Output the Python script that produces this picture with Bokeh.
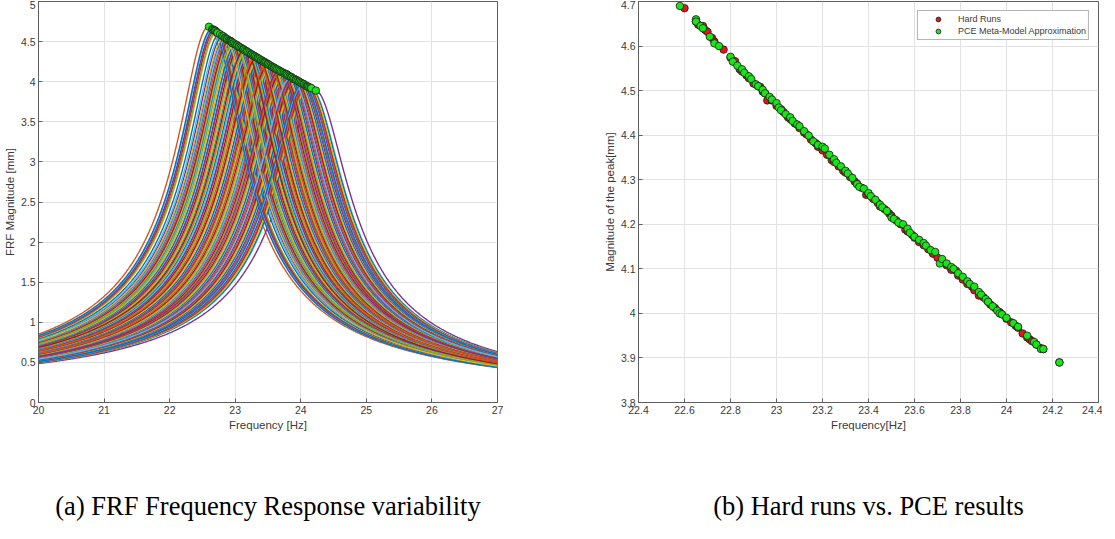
import numpy as np
from bokeh.plotting import figure
from bokeh.layouts import row
from bokeh.models import (FixedTicker, LinearAxis, Legend, LegendItem, ColumnDataSource)
from bokeh.embed import file_html
from bokeh.resources import INLINE

# ---------------- data ----------------
# Hard runs: peak frequency [Hz] and peak magnitude [mm]
hard_freq = [22.60, 22.65, 22.66, 22.68, 22.69, 22.70, 22.72, 22.73, 22.77, 22.80,
             22.82, 22.84, 22.85, 22.87, 22.88, 22.90, 22.92, 22.93, 22.94, 22.95,
             22.96, 22.98, 23.00, 23.02, 23.03, 23.05, 23.06, 23.08, 23.10, 23.12,
             23.13, 23.15, 23.17, 23.18, 23.20, 23.22, 23.24, 23.25, 23.27, 23.29,
             23.30, 23.32, 23.34, 23.35, 23.37, 23.39, 23.40, 23.42, 23.44, 23.45,
             23.47, 23.49, 23.50, 23.52, 23.54, 23.56, 23.57, 23.59, 23.60, 23.62,
             23.64, 23.66, 23.68, 23.70, 23.72, 23.74, 23.76, 23.78, 23.79, 23.81,
             23.83, 23.85, 23.86, 23.88, 23.90, 23.92, 23.93, 23.95, 23.97, 23.98,
             24.00, 24.02, 24.04, 24.05, 24.07, 24.09, 24.10, 24.11, 24.13, 24.15,
             24.16, 24.23]
hard_peak = [4.685, 4.655, 4.648, 4.645, 4.636, 4.632, 4.618, 4.610, 4.592, 4.574,
             4.566, 4.548, 4.543, 4.534, 4.528, 4.516, 4.510, 4.508, 4.498, 4.494,
             4.478, 4.478, 4.466, 4.458, 4.452, 4.440, 4.436, 4.426, 4.416, 4.406,
             4.402, 4.390, 4.382, 4.374, 4.366, 4.356, 4.344, 4.340, 4.330, 4.320,
             4.316, 4.306, 4.296, 4.291, 4.282, 4.266, 4.268, 4.257, 4.248, 4.240,
             4.234, 4.224, 4.219, 4.209, 4.200, 4.188, 4.184, 4.176, 4.170, 4.160,
             4.153, 4.144, 4.134, 4.125, 4.116, 4.108, 4.098, 4.096, 4.085, 4.076,
             4.066, 4.060, 4.052, 4.040, 4.036, 4.026, 4.020, 4.012, 4.003, 3.998,
             3.988, 3.980, 3.972, 3.968, 3.955, 3.946, 3.942, 3.938, 3.930, 3.922,
             3.920, 3.890]

# PCE meta-model approximation
pce_freq = [22.58, 22.65, 22.65, 22.67, 22.68, 22.71, 22.73, 22.75, 22.80, 22.81,
            22.83, 22.85, 22.86, 22.88, 22.89, 22.91, 22.92, 22.94, 22.95, 22.97,
            22.98, 23.00, 23.01, 23.02, 23.04, 23.06, 23.07, 23.09, 23.10, 23.12,
            23.14, 23.16, 23.18, 23.20, 23.21, 23.23, 23.25, 23.26, 23.28, 23.30,
            23.31, 23.33, 23.35, 23.36, 23.38, 23.40, 23.41, 23.43, 23.45, 23.46,
            23.48, 23.50, 23.51, 23.53, 23.55, 23.57, 23.58, 23.60, 23.62, 23.64,
            23.65, 23.67, 23.69, 23.71, 23.72, 23.74, 23.76, 23.77, 23.79, 23.81,
            23.83, 23.84, 23.86, 23.88, 23.89, 23.91, 23.92, 23.94, 23.96, 23.97,
            23.98, 24.00, 24.03, 24.05, 24.09, 24.12, 24.13, 24.15, 24.16, 24.23]
pce_peak = [4.690, 4.660, 4.655, 4.645, 4.640, 4.621, 4.606, 4.600, 4.576, 4.565,
            4.556, 4.548, 4.540, 4.532, 4.526, 4.514, 4.510, 4.502, 4.494, 4.486,
            4.480, 4.472, 4.462, 4.456, 4.447, 4.440, 4.432, 4.424, 4.420, 4.409,
            4.399, 4.386, 4.378, 4.374, 4.370, 4.356, 4.346, 4.338, 4.330, 4.320,
            4.314, 4.304, 4.290, 4.284, 4.280, 4.270, 4.263, 4.255, 4.244, 4.238,
            4.230, 4.215, 4.212, 4.204, 4.200, 4.190, 4.181, 4.172, 4.165, 4.158,
            4.152, 4.142, 4.138, 4.112, 4.122, 4.112, 4.104, 4.100, 4.090, 4.082,
            4.072, 4.066, 4.060, 4.048, 4.042, 4.032, 4.026, 4.016, 4.006, 4.000,
            3.998, 3.990, 3.978, 3.970, 3.950, 3.936, 3.930, 3.920, 3.920, 3.890]

damping_ratio = 0.02
freq_start, freq_stop, freq_step = 20.0, 27.0, 0.01

# ticks
xticks_a = [20, 21, 22, 23, 24, 25, 26, 27]
xlabels_a = ["20", "21", "22", "23", "24", "25", "26", "27"]
yticks_a = [0, 0.5, 1, 1.5, 2, 2.5, 3, 3.5, 4, 4.5, 5]
ylabels_a = ["0", "0.5", "1", "1.5", "2", "2.5", "3", "3.5", "4", "4.5", "5"]
xticks_b = [22.4, 22.6, 22.8, 23, 23.2, 23.4, 23.6, 23.8, 24, 24.2, 24.4]
xlabels_b = ["22.4", "22.6", "22.8", "23", "23.2", "23.4", "23.6", "23.8", "24", "24.2", "24.4"]
yticks_b = [3.8, 3.9, 4, 4.1, 4.2, 4.3, 4.4, 4.5, 4.6, 4.7]
ylabels_b = ["3.8", "3.9", "4", "4.1", "4.2", "4.3", "4.4", "4.5", "4.6", "4.7"]

caption_a = "(a) FRF Frequency Response variability"
caption_b = "(b) Hard runs vs. PCE results"

# ---------------- styling ----------------
PALETTE = ["#0072BD", "#D95319", "#EDB120", "#7E2F8E", "#77AC30", "#4DBEEE", "#A2142F"]
AX_COL = "#5e5e5e"
TXT_COL = "#3a3a3a"
GRID_COL = "#e2e2e2"
FONT = "Liberation Sans"


def style_axis(ax, ticks, labels):
    ax.ticker = FixedTicker(ticks=ticks)
    ax.minor_tick_line_color = None
    ax.major_tick_in = 4
    ax.major_tick_out = 0
    ax.major_tick_line_color = AX_COL
    ax.axis_line_color = AX_COL
    ax.major_label_text_font = FONT
    ax.major_label_overrides = {t: l for t, l in zip(ticks, labels)}
    ax.major_label_text_color = TXT_COL
    ax.major_label_text_font_size = "10.5px"
    ax.major_label_standoff = 3
    ax.axis_label_text_font = FONT
    ax.axis_label_text_font_style = "normal"
    ax.axis_label_text_font_size = "11.5px"
    ax.axis_label_text_color = TXT_COL
    ax.axis_label_standoff = 2


def make_fig(frame_w, border_left, border_right, xr, yr, xt, xl, yt, yl, xlabel, ylabel,
             cap):
    p = figure(frame_width=frame_w, frame_height=401, x_range=xr, y_range=yr,
               output_backend="svg", toolbar_location=None,
               min_border_left=border_left, min_border_right=border_right,
               min_border_top=1, min_border_bottom=121)
    p.background_fill_color = "white"
    p.border_fill_color = "white"
    p.outline_line_color = AX_COL
    p.outline_line_width = 1
    style_axis(p.xaxis[0], xt, xl)
    style_axis(p.yaxis[0], yt, yl)
    p.xaxis.axis_label = xlabel
    p.yaxis.axis_label = ylabel
    p.xgrid.grid_line_color = GRID_COL
    p.ygrid.grid_line_color = GRID_COL
    # caption placed as the label of a bare axis below the frame
    cap_axis = LinearAxis(ticker=FixedTicker(ticks=[]), axis_line_color=None,
                          major_tick_line_color=None, minor_tick_line_color=None,
                          major_tick_in=0, major_tick_out=0, major_label_standoff=0,
                          axis_label=cap, axis_label_standoff=57,
                          axis_label_text_font="Liberation Serif",
                          axis_label_text_font_size="26.5px",
                          axis_label_text_font_style="normal",
                          axis_label_text_color="black")
    p.add_layout(cap_axis, "below")
    return p


# ---------------- (a) FRF curves ----------------
p1 = make_fig(459, 34, 59, (20, 27), (0, 5), xticks_a, xlabels_a, yticks_a, ylabels_a,
              "Frequency [Hz]", "FRF Magnitude [mm]", caption_a)

freq_grid = np.arange(freq_start, freq_stop + freq_step / 2, freq_step)
n = len(hard_freq)
draw_order = [(k * 51) % n for k in range(n)]
xs, ys, cols = [], [], []
for k, i in enumerate(draw_order):
    fn, pk = hard_freq[i], hard_peak[i]
    r = freq_grid / fn
    amp = pk * 2 * damping_ratio * np.sqrt(1 - damping_ratio ** 2)
    mag = amp / np.sqrt((1 - r ** 2) ** 2 + (2 * damping_ratio * r) ** 2)
    xs.append(freq_grid)
    ys.append(mag)
    cols.append(PALETTE[(k + 1) % len(PALETTE)])
p1.multi_line(xs="xs", ys="ys", line_color="c", line_width=1.4,
              source=ColumnDataSource(dict(xs=xs, ys=ys, c=cols)))
p1.scatter(hard_freq, hard_peak, size=7.5, fill_color="#19e619", line_color="#1a1a1a",
           line_width=0.8)

# ---------------- (b) scatter ----------------
p2 = make_fig(460, 82, 4, (22.4, 24.4), (3.8, 4.7), xticks_b, xlabels_b, yticks_b, ylabels_b,
              "Frequency[Hz]", "Magnitude of the peak[mm]", caption_b)
r_hard = p2.scatter(hard_freq, hard_peak, size=7.5, fill_color="#e3161b",
                    line_color="#1a1a1a", line_width=0.8)
r_pce = p2.scatter(pce_freq, pce_peak, size=7.5, fill_color="#19e619",
                   line_color="#1a1a1a", line_width=0.8)
legend = Legend(items=[LegendItem(label="Hard Runs", renderers=[r_hard]),
                       LegendItem(label="PCE Meta-Model Approximation", renderers=[r_pce])],
                location="top_right", margin=9, padding=2, spacing=0,
                glyph_width=36, glyph_height=12, label_height=12, label_standoff=2,
                label_text_font=FONT, label_text_font_size="9px",
                label_text_color=TXT_COL, border_line_color="#6a6a6a",
                border_line_width=1, background_fill_color="white",
                background_fill_alpha=1)
p2.add_layout(legend, "center")

layout = row(p1, p2)
open("out.html", "w").write(file_html(layout, INLINE))
